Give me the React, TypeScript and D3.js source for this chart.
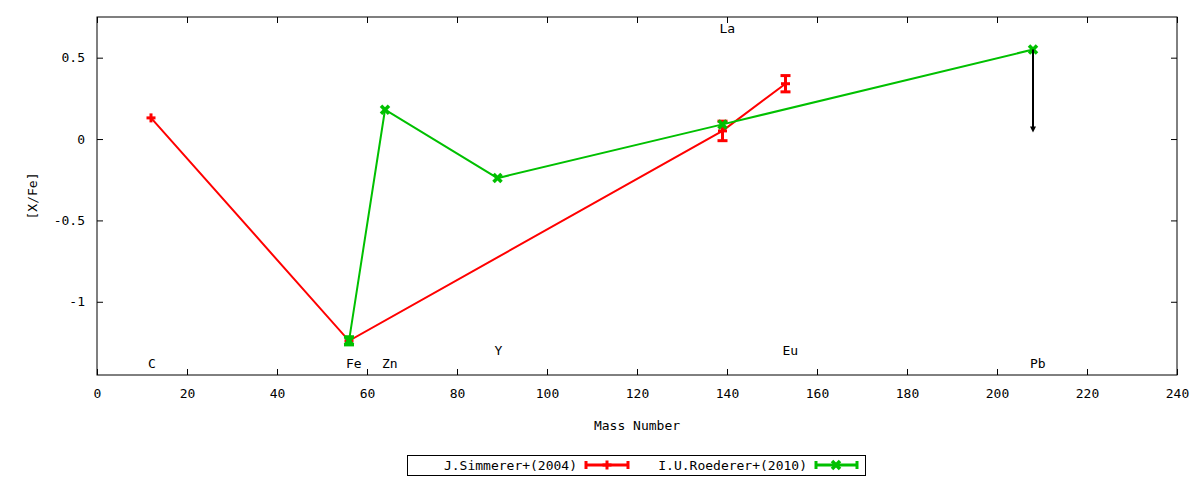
import React, { useEffect, useMemo, useRef } from "react";
import * as d3 from "d3";

const WIDTH = 1200;
const HEIGHT = 480;
const MARGIN = { top: 17, right: 23, bottom: 105, left: 97 };
const FONT = "'DejaVu Sans Mono', monospace";

// J.Simmerer+(2004)
const simmererMass = [12, 56, 139, 153];
const simmererVal = [0.13, -1.24, 0.05, 0.34];
const simmererErr = [0, 0, 0.06, 0.05];

// I.U.Roederer+(2010)
const roedererMass = [56, 64, 89, 139, 208];
const roedererVal = [-1.24, 0.18, -0.24, 0.09, 0.55];
const roedererErr = [0.025, 0, 0, 0, 0];

// upper limit arrow (Pb)
const limitMass = [208];
const limitFrom = [0.55];
const limitTo = [0.04];

// element labels
const elementNames = ["C", "Fe", "Zn", "Y", "La", "Eu", "Pb"];
const elementMass = [12, 56, 64, 89, 139, 153, 208];
const elementLabelY = [-1.41, -1.41, -1.41, -1.325, 0.65, -1.325, -1.41];

const xTicks = [0, 20, 40, 60, 80, 100, 120, 140, 160, 180, 200, 220, 240];
const yTicks = [0.5, 0, -0.5, -1];
const xDomain = [0, 240];
const yDomain = [-1.45, 0.75];

const seriesNames = ["J.Simmerer+(2004)", "I.U.Roederer+(2010)"];
const seriesColors = ["#ff0000", "#00c000"];

const plus = (cx: number, cy: number, color: string, key: string) => (
  <g key={key} stroke={color} strokeWidth={3}>
    <line x1={cx - 4.5} x2={cx + 4.5} y1={cy} y2={cy} />
    <line x1={cx} x2={cx} y1={cy - 4.5} y2={cy + 4.5} />
  </g>
);

const cross = (cx: number, cy: number, color: string, key: string) => (
  <g key={key} stroke={color} strokeWidth={3.5}>
    <line x1={cx - 4} x2={cx + 4} y1={cy - 4} y2={cy + 4} />
    <line x1={cx - 4} x2={cx + 4} y1={cy + 4} y2={cy - 4} />
  </g>
);

const errBar = (cx: number, y0: number, y1: number, color: string, key: string) => (
  <g key={key} stroke={color} strokeWidth={3}>
    <line x1={cx} x2={cx} y1={y0} y2={y1} />
    <line x1={cx - 5} x2={cx + 5} y1={y0} y2={y0} />
    <line x1={cx - 5} x2={cx + 5} y1={y1} y2={y1} />
  </g>
);

export default function App() {
  const axesRef = useRef(null);
  const boundsWidth = WIDTH - MARGIN.left - MARGIN.right;
  const boundsHeight = HEIGHT - MARGIN.top - MARGIN.bottom;

  const xScale = useMemo(
    () => d3.scaleLinear().domain(xDomain).range([0, boundsWidth]),
    [boundsWidth]
  );
  const yScale = useMemo(
    () => d3.scaleLinear().domain(yDomain).range([boundsHeight, 0]),
    [boundsHeight]
  );

  useEffect(() => {
    const g = d3.select(axesRef.current);
    g.selectAll("*").remove();

    const styleAxis = (sel: any) => {
      sel.select(".domain").remove();
      sel.selectAll("line").attr("stroke", "#000").attr("stroke-width", 1);
      sel
        .selectAll("text")
        .attr("fill", "#000")
        .style("font-family", FONT)
        .style("font-size", "13px");
    };

    g.append("g")
      .attr("transform", `translate(0,${boundsHeight})`)
      .call(
        d3.axisBottom(xScale).tickValues(xTicks).tickSizeInner(-6).tickSizeOuter(0).tickPadding(14)
      )
      .call(styleAxis);
    g.append("g")
      .call(d3.axisTop(xScale).tickValues(xTicks).tickSizeInner(-6).tickSizeOuter(0).tickFormat(() => ""))
      .call(styleAxis);
    g.append("g")
      .call(
        d3
          .axisLeft(yScale)
          .tickValues(yTicks)
          .tickSizeInner(-6)
          .tickSizeOuter(0)
          .tickPadding(12)
          .tickFormat((d: any) => (d === 0 ? "0" : String(d)))
      )
      .call(styleAxis);
    g.append("g")
      .attr("transform", `translate(${boundsWidth},0)`)
      .call(d3.axisRight(yScale).tickValues(yTicks).tickSizeInner(-6).tickSizeOuter(0).tickFormat(() => ""))
      .call(styleAxis);

    // frame
    g.append("rect")
      .attr("width", boundsWidth)
      .attr("height", boundsHeight)
      .attr("fill", "none")
      .attr("stroke", "#000")
      .attr("stroke-width", 1);
  }, [xScale, yScale, boundsWidth, boundsHeight]);

  const lineGen = d3
    .line<[number, number]>()
    .x((d) => xScale(d[0]))
    .y((d) => yScale(d[1]));

  const simPts = simmererMass.map((m, i) => [m, simmererVal[i]] as [number, number]);
  const roePts = roedererMass.map((m, i) => [m, roedererVal[i]] as [number, number]);

  const legendY = 465;

  return (
    <svg
      width={WIDTH}
      height={HEIGHT}
      style={{ position: "absolute", left: 0, top: 0, background: "#fff" }}
      fontFamily={FONT}
      fontSize={13}
    >
      <g transform={`translate(${MARGIN.left},${MARGIN.top})`}>
        {/* element labels */}
        {elementNames.map((name, i) => (
          <text key={name} x={xScale(elementMass[i]) - 3} y={yScale(elementLabelY[i])} fill="#000">
            {name}
          </text>
        ))}

        {/* Simmerer */}
        <path d={lineGen(simPts) || ""} fill="none" stroke={seriesColors[0]} strokeWidth={2} />
        {simPts.map((p, i) =>
          simmererErr[i] > 0
            ? errBar(
                xScale(p[0]),
                yScale(p[1] + simmererErr[i]),
                yScale(p[1] - simmererErr[i]),
                seriesColors[0],
                "se" + i
              )
            : null
        )}
        {simPts.map((p, i) => plus(xScale(p[0]), yScale(p[1]), seriesColors[0], "sp" + i))}

        {/* Roederer */}
        <path d={lineGen(roePts) || ""} fill="none" stroke={seriesColors[1]} strokeWidth={2} />
        {roePts.map((p, i) =>
          roedererErr[i] > 0
            ? errBar(
                xScale(p[0]),
                yScale(p[1] + roedererErr[i]),
                yScale(p[1] - roedererErr[i]),
                seriesColors[1],
                "re" + i
              )
            : null
        )}
        {roePts.map((p, i) => cross(xScale(p[0]), yScale(p[1]), seriesColors[1], "rp" + i))}

        {/* upper limit arrows */}
        {limitMass.map((m, i) => {
          const cx = xScale(m);
          const y0 = yScale(limitFrom[i]);
          const y1 = yScale(limitTo[i]);
          return (
            <g key={"lim" + i}>
              <line x1={cx} x2={cx} y1={y0} y2={y1 - 4} stroke="#000" strokeWidth={2} />
              <path d={`M${cx - 3},${y1 - 6} L${cx + 3},${y1 - 6} L${cx},${y1} Z`} fill="#000" />
            </g>
          );
        })}

        {/* axis titles */}
        <text x={boundsWidth / 2} y={boundsHeight + 55} textAnchor="middle" fill="#000">
          Mass Number
        </text>
        <text
          transform={`translate(${32 - MARGIN.left},${boundsHeight / 2}) rotate(-90)`}
          textAnchor="middle"
          dy="0.35em"
          fill="#000"
        >
          [X/Fe]
        </text>
      </g>
      <g ref={axesRef} transform={`translate(${MARGIN.left},${MARGIN.top})`} />

      {/* legend */}
      <g>
        <rect x={407.5} y={455.5} width={458} height={20} fill="none" stroke="#000" strokeWidth={1} />
        <text x={577} y={legendY} dy="0.35em" textAnchor="end" fill="#000">
          {seriesNames[0]}
        </text>
        <g stroke={seriesColors[0]} strokeWidth={3}>
          <line x1={586} x2={628} y1={legendY} y2={legendY} />
          <line x1={586} x2={586} y1={legendY - 4} y2={legendY + 4} />
          <line x1={628} x2={628} y1={legendY - 4} y2={legendY + 4} />
        </g>
        {plus(607, legendY, seriesColors[0], "lp0")}
        <text x={807} y={legendY} dy="0.35em" textAnchor="end" fill="#000">
          {seriesNames[1]}
        </text>
        <g stroke={seriesColors[1]} strokeWidth={3}>
          <line x1={816} x2={857} y1={legendY} y2={legendY} />
          <line x1={816} x2={816} y1={legendY - 4} y2={legendY + 4} />
          <line x1={857} x2={857} y1={legendY - 4} y2={legendY + 4} />
        </g>
        {cross(836, legendY, seriesColors[1], "lp1")}
      </g>
    </svg>
  );
}
